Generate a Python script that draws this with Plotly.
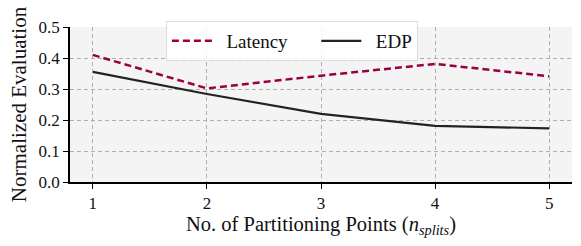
import plotly.graph_objects as go

n_splits = [1, 2, 3, 4, 5]
latency = [0.410, 0.302, 0.343, 0.381, 0.341]
edp = [0.355, 0.284, 0.220, 0.181, 0.173]
y_ticks = [0.0, 0.1, 0.2, 0.3, 0.4, 0.5]

FONT = "Liberation Serif"
NB = "\u00a0\u00a0"

fig = go.Figure()
fig.add_trace(go.Scatter(x=n_splits, y=latency, mode="lines",
                         name=NB + "Latency" + "\u00a0" * 5,
                         line=dict(color="#990044", width=2.5, dash="7px,4px")))
fig.add_trace(go.Scatter(x=n_splits, y=edp, mode="lines", name=NB + "EDP",
                         line=dict(color="#222222", width=2.2)))

grid = dict(showgrid=True, gridcolor="#b0b0b0", griddash="4px,3px", gridwidth=1)
tickfont = dict(family=FONT, size=17, color="#111111")
fig.update_layout(
    width=581, height=246,
    margin=dict(l=70, r=9, t=27, b=64, autoexpand=False),
    paper_bgcolor="white", plot_bgcolor="#f4f4f4",
    font=dict(family=FONT, size=17, color="#111111"),
    showlegend=True,
    legend=dict(orientation="h", x=0.442, xanchor="center",
                yref="container", y=1 - 21 / 246, yanchor="top",
                bgcolor="rgba(255,255,255,0.85)", bordercolor="#dddddd", borderwidth=1,
                font=dict(family=FONT, size=19), itemwidth=40),
    xaxis=dict(range=[0.8, 5.2], tickvals=n_splits, ticktext=[str(v) for v in n_splits],
               showline=True, linecolor="black", linewidth=1.5, ticks="outside",
               ticklen=5, tickcolor="black", zeroline=False, tickfont=tickfont,
               automargin=False,
               title=dict(text="No. of Partitioning Points (<i>n</i><sub><i>splits</i></sub>)",
                          font=dict(family=FONT, size=20.5), standoff=3), **grid),
    yaxis=dict(range=[0, 0.5], tickvals=y_ticks, tickformat=".1f",
               showline=True, linecolor="black", linewidth=1.5, ticks="outside",
               ticklen=5, tickcolor="black", zeroline=False, tickfont=tickfont,
               automargin=False,
               title=dict(text="Normalized Evaluation", font=dict(family=FONT, size=21), standoff=6), **grid),
)
fig.write_html("out.html", config={"displayModeBar": False},
               post_script="document.body.style.margin='0px';document.body.style.overflow='hidden';")
